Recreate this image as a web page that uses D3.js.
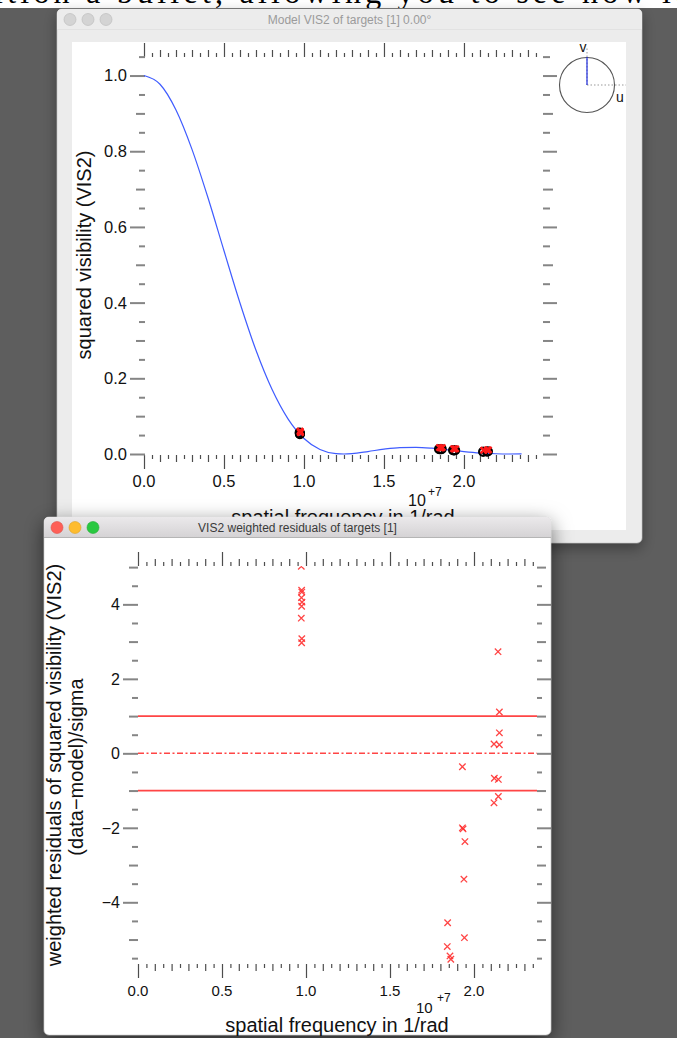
<!DOCTYPE html>
<html>
<head>
<meta charset="utf-8">
<script src="https://cdn.jsdelivr.net/npm/d3@7"></script>
<style>
html, body { margin: 0; padding: 0; background: #5e5e5e; overflow: hidden; }
svg { display: block; }
</style>
</head>
<body>
<script>
// ---- Model VIS2 curve (spatial frequency in units of 1e7 / rad) ----
const modelFreq = [0, 0.1, 0.2, 0.3, 0.4, 0.5, 0.6, 0.7, 0.8, 0.9, 1.0, 1.1, 1.2, 1.25, 1.3,
                   1.4, 1.5, 1.6, 1.7, 1.8, 1.9, 2.0, 2.1, 2.2, 2.28, 2.36];
const modelVis2 = [1.000, 0.977, 0.909, 0.805, 0.677, 0.537, 0.399, 0.274, 0.171, 0.093, 0.041,
                   0.012, 0.001, 0.000, 0.001, 0.0065, 0.0128, 0.0169, 0.0176, 0.0153, 0.0111,
                   0.0065, 0.0028, 0.0006, 0.0000, 0.0001];

// ---- Measured VIS2 ----
const vis2Freq  = [0.972, 0.974, 0.975, 0.973, 0.976, 0.974,
                   1.843, 1.849, 1.857, 1.862,
                   1.931, 1.935, 1.940, 1.946,
                   2.119, 2.121, 2.143, 2.145, 2.151];
const vis2Value = [0.057, 0.056, 0.055, 0.054, 0.053, 0.052,
                   0.013, 0.012, 0.012, 0.013,
                   0.010, 0.009, 0.009, 0.010,
                   0.006, 0.006, 0.007, 0.006, 0.007];

// ---- Weighted residuals (data-model)/sigma ----
const residFreq  = [0.972, 0.974, 0.975, 0.973, 0.976, 0.974, 0.972, 0.975, 0.974,
                    1.843, 1.841, 1.857, 1.862,
                    1.931, 1.931, 1.935, 1.946, 1.940, 1.943,
                    2.143, 2.151, 2.151, 2.119, 2.151, 2.121, 2.145, 2.145, 2.119];
const residValue = [5.02, 4.38, 4.33, 4.18, 4.06, 3.95, 3.63, 3.08, 2.97,
                    -4.55, -5.19, -5.44, -5.53,
                    -0.36, -2.00, -2.03, -2.37, -3.38, -4.95,
                    2.73, 1.11, 0.55, 0.25, 0.23, -0.67, -0.70, -1.16, -1.33];
const residBands = [-1, 1];

// ---- Tick labels ----
const freqTicks   = [0, 0.5, 1.0, 1.5, 2.0];
const freqLabels  = ["0.0", "0.5", "1.0", "1.5", "2.0"];
const vis2Ticks   = [0, 0.2, 0.4, 0.6, 0.8, 1.0];
const vis2Labels  = ["0.0", "0.2", "0.4", "0.6", "0.8", "1.0"];
const residTicks  = [-4, -2, 0, 2, 4];
const residLabels = ["\u22124", "\u22122", "0", "2", "4"];

const W = 677, H = 1038;
const FONT = "'Liberation Sans', Arial, Helvetica, sans-serif";

const svg = d3.select("body").append("svg").attr("width", W).attr("height", H);
const defs = svg.append("defs");

defs.append("filter").attr("id", "shadow1")
  .attr("x", "-10%").attr("y", "-10%").attr("width", "120%").attr("height", "125%")
  .append("feDropShadow").attr("dx", 0).attr("dy", 5).attr("stdDeviation", 7)
  .attr("flood-color", "#000").attr("flood-opacity", 0.35);
defs.append("filter").attr("id", "shadow2")
  .attr("x", "-15%").attr("y", "-10%").attr("width", "130%").attr("height", "125%")
  .append("feDropShadow").attr("dx", 0).attr("dy", 6).attr("stdDeviation", 10)
  .attr("flood-color", "#000").attr("flood-opacity", 0.55);

const tbActive = defs.append("linearGradient").attr("id", "tbActive")
  .attr("x1", 0).attr("y1", 0).attr("x2", 0).attr("y2", 1);
tbActive.append("stop").attr("offset", "0%").attr("stop-color", "#ebe9eb");
tbActive.append("stop").attr("offset", "100%").attr("stop-color", "#d5d3d5");

defs.append("clipPath").attr("id", "bandClip")
  .append("rect").attr("x", 0).attr("y", 0).attr("width", W).attr("height", 8);

// ---- Page strip behind the windows ----
svg.append("rect").attr("x", 0).attr("y", 0).attr("width", W).attr("height", H).attr("fill", "#5e5e5e");
svg.append("rect").attr("x", 0).attr("y", 0).attr("width", W).attr("height", 8).attr("fill", "#ffffff");
svg.append("text").attr("clip-path", "url(#bandClip)")
  .attr("x", -6).attr("y", 3)
  .attr("textLength", 690).attr("lengthAdjust", "spacing")
  .attr("font-family", "'Liberation Serif', 'DejaVu Serif', serif").attr("font-size", 32)
  .attr("fill", "#000").text("ition a bullet, allowing you to see how it");

// ---- Window chrome helper ----
function windowFrame(x, y, w, h, opts) {
  const g = svg.append("g");
  g.append("rect").attr("x", x).attr("y", y).attr("width", w).attr("height", h)
    .attr("rx", 5).attr("fill", opts.body).attr("filter", opts.filter)
    .attr("stroke", "#b8b8b8").attr("stroke-width", 0.5);
  // title bar with rounded top corners
  const r = 5, tb = 20;
  g.append("path")
    .attr("d", `M${x},${y + tb} L${x},${y + r} Q${x},${y} ${x + r},${y} L${x + w - r},${y} Q${x + w},${y} ${x + w},${y + r} L${x + w},${y + tb} Z`)
    .attr("fill", opts.titleFill);
  g.append("line").attr("x1", x).attr("x2", x + w).attr("y1", y + tb + 0.5).attr("y2", y + tb + 0.5)
    .attr("stroke", opts.sep).attr("stroke-width", 1);
  opts.lights.forEach((c, i) => {
    g.append("circle").attr("cx", x + 13 + i * 18).attr("cy", y + 10.5).attr("r", 6)
      .attr("fill", c).attr("stroke", d3.color(c).darker(0.4)).attr("stroke-width", 0.6);
  });
  g.append("text").attr("x", x + w / 2).attr("y", y + 14.5).attr("text-anchor", "middle")
    .attr("font-family", FONT).attr("font-size", 12).attr("fill", opts.titleColor)
    .text(opts.title);
  return g;
}

// axis tick helper drawn with d3 axes, one call per tick level
function tickSet(axisFn, scale, values, size, transform, color, width) {
  const ax = axisFn(scale).tickValues(values).tickSize(size).tickFormat("");
  const g = svg.append("g").attr("transform", transform).call(ax);
  g.select(".domain").remove();
  g.selectAll(".tick line").attr("stroke", color).attr("stroke-width", width);
  return g;
}
function splitLevels(vals, step, majorEvery, midEvery) {
  const out = { major: [], mid: [], minor: [] };
  vals.forEach(v => {
    const k = Math.round(v / step);
    if (k % majorEvery === 0) out.major.push(v);
    else if (k % midEvery === 0) out.mid.push(v);
    else out.minor.push(v);
  });
  return out;
}

// =================== Window 1 : Model VIS2 ===================
windowFrame(57, 9, 585, 534, {
  body: "#ececec", titleFill: "#ececec", sep: "#e2e2e2", filter: "url(#shadow1)",
  lights: ["#d4d4d4", "#d4d4d4", "#d4d4d4"], titleColor: "#9b9b9b",
  title: "Model VIS2 of targets [1] 0.00\u00b0"
});
svg.append("rect").attr("x", 72).attr("y", 42).attr("width", 554).attr("height", 488).attr("fill", "#ffffff");

const x1 = d3.scaleLinear().domain([0, 2.494]).range([144, 543]);
const y1 = d3.scaleLinear().domain([0, 1.049]).range([454, 57]);

const x1Vals = d3.range(0, 50).map(i => +(i * 0.05).toFixed(2));
const x1L = splitLevels(x1Vals, 0.05, 10, 2);
const tickDark = "#4d4d4d", tickGray = "#858585";
[[x1L.major, 14], [x1L.mid, 7], [x1L.minor, 4]].forEach(([v, s]) => {
  tickSet(d3.axisBottom, x1, v, s, `translate(0,${y1(0) + 1})`, tickDark, 1.2);
  tickSet(d3.axisTop, x1, v, s, `translate(0,${y1.range()[1]})`, tickDark, 1.2);
});
const y1Vals = d3.range(0, 22).map(i => +(i * 0.05).toFixed(2));
const y1L = splitLevels(y1Vals, 0.05, 4, 2);
[[y1L.major, 15, 14], [y1L.mid, 9, 10], [y1L.minor, 6, 7]].forEach(([v, sl, sr]) => {
  tickSet(d3.axisLeft, y1, v, sl, `translate(${x1(0) + 1},0)`, tickGray, 2);
  tickSet(d3.axisRight, y1, v, sr, `translate(${x1.range()[1]},0)`, tickGray, 2);
});

svg.append("g").selectAll("text").data(freqTicks).join("text")
  .attr("x", d => x1(d)).attr("y", 487).attr("text-anchor", "middle")
  .attr("font-family", FONT).attr("font-size", 16.5).attr("fill", "#111")
  .text((d, i) => freqLabels[i]);
svg.append("g").selectAll("text").data(vis2Ticks).join("text")
  .attr("x", 127).attr("y", d => y1(d)).attr("dy", "0.36em").attr("text-anchor", "end")
  .attr("font-family", FONT).attr("font-size", 16.5).attr("fill", "#111")
  .text((d, i) => vis2Labels[i]);

svg.append("text").attr("x", 408).attr("y", 506).attr("font-family", FONT).attr("font-size", 16)
  .attr("fill", "#111").text("10");
svg.append("text").attr("x", 428).attr("y", 496).attr("font-family", FONT).attr("font-size", 12)
  .attr("fill", "#111").text("+7");
svg.append("text").attr("x", 343).attr("y", 524).attr("text-anchor", "middle")
  .attr("font-family", FONT).attr("font-size", 20).attr("fill", "#111")
  .text("spatial frequency in 1/rad");
svg.append("text").attr("transform", "translate(91,255) rotate(-90)").attr("text-anchor", "middle")
  .attr("font-family", FONT).attr("font-size", 20).attr("fill", "#111")
  .text("squared visibility (VIS2)");

// model curve
const modelPts = modelFreq.map((f, i) => [f, modelVis2[i]]);
svg.append("path").datum(modelPts)
  .attr("d", d3.line().x(d => x1(d[0])).y(d => y1(d[1])).curve(d3.curveMonotoneX))
  .attr("fill", "none").attr("stroke", "#3f5cff").attr("stroke-width", 1.2);

// measurements: black ring with red cross
const vis2Pts = vis2Freq.map((f, i) => [f, vis2Value[i]]);
svg.append("g").selectAll("circle").data(vis2Pts).join("circle")
  .attr("cx", d => x1(d[0])).attr("cy", d => y1(d[1])).attr("r", 4)
  .attr("fill", "none").attr("stroke", "#000").attr("stroke-width", 1.8);
const crossPath = (s) => `M${-s},${-s}L${s},${s}M${-s},${s}L${s},${-s}`;
svg.append("g").selectAll("path").data(vis2Pts).join("path")
  .attr("transform", d => `translate(${x1(d[0]) + 0.5},${y1(d[1]) - 1.5})`)
  .attr("d", crossPath(3)).attr("stroke", "#ff1a1a").attr("stroke-width", 2.2).attr("fill", "none");

// uv coverage inset
const uvC = [587, 85], uvR = 27.5;
svg.append("line").attr("x1", uvC[0]).attr("x2", 626).attr("y1", uvC[1]).attr("y2", uvC[1])
  .attr("stroke", "#999").attr("stroke-width", 1).attr("stroke-dasharray", "1.5,2");
svg.append("line").attr("x1", uvC[0]).attr("x2", uvC[0]).attr("y1", uvC[1]).attr("y2", 48)
  .attr("stroke", "#999").attr("stroke-width", 1).attr("stroke-dasharray", "1.5,2");
svg.append("circle").attr("cx", uvC[0]).attr("cy", uvC[1]).attr("r", uvR)
  .attr("fill", "none").attr("stroke", "#555").attr("stroke-width", 1.1);
svg.append("line").attr("x1", uvC[0]).attr("x2", uvC[0]).attr("y1", uvC[1]).attr("y2", uvC[1] - uvR - 0.5)
  .attr("stroke", "#1f2de0").attr("stroke-width", 1.2);
svg.append("text").attr("x", 583).attr("y", 52).attr("text-anchor", "middle")
  .attr("font-family", FONT).attr("font-size", 14).attr("fill", "#111").text("v");
svg.append("text").attr("x", 620).attr("y", 102).attr("text-anchor", "middle")
  .attr("font-family", FONT).attr("font-size", 14).attr("fill", "#111").text("u");

// =================== Window 2 : weighted residuals ===================
windowFrame(44, 517, 507, 518, {
  body: "#ffffff", titleFill: "url(#tbActive)", sep: "#b5b5b5", filter: "url(#shadow2)",
  lights: ["#fe5f57", "#febc2e", "#29c840"], titleColor: "#3a3a3a",
  title: "VIS2 weighted residuals of targets [1]"
});

const x2 = d3.scaleLinear().domain([0, 2.375]).range([138, 537]);
const y2 = d3.scaleLinear().domain([-5.63, 5.03]).range([963, 566]);

defs.append("clipPath").attr("id", "resClip").append("rect")
  .attr("x", x2.range()[0]).attr("y", y2.range()[1])
  .attr("width", x2.range()[1] - x2.range()[0]).attr("height", y2.range()[0] - y2.range()[1]);

const x2Vals = d3.range(0, 48).map(i => +(i * 0.05).toFixed(2));
const x2L = splitLevels(x2Vals, 0.05, 10, 2);
[[x2L.major, 14], [x2L.mid, 7], [x2L.minor, 4]].forEach(([v, s]) => {
  tickSet(d3.axisBottom, x2, v, s, `translate(0,${y2.range()[0] + 1})`, tickDark, 1.2);
  tickSet(d3.axisTop, x2, v, s, `translate(0,${y2.range()[1]})`, tickDark, 1.2);
});
const y2Vals = d3.range(-11, 11).map(i => i * 0.5);
const y2L = splitLevels(y2Vals, 0.5, 4, 2);
[[y2L.major, 15, 14], [y2L.mid, 9, 9], [y2L.minor, 6, 5]].forEach(([v, sl, sr]) => {
  tickSet(d3.axisLeft, y2, v, sl, `translate(${x2(0)},0)`, tickGray, 2);
  tickSet(d3.axisRight, y2, v, sr, `translate(${x2.range()[1]},0)`, tickGray, 2);
});

svg.append("g").selectAll("text").data(freqTicks).join("text")
  .attr("x", d => x2(d)).attr("y", 996).attr("text-anchor", "middle")
  .attr("font-family", FONT).attr("font-size", 15).attr("fill", "#111")
  .text((d, i) => freqLabels[i]);
svg.append("g").selectAll("text").data(residTicks).join("text")
  .attr("x", 120).attr("y", d => y2(d)).attr("dy", "0.36em").attr("text-anchor", "end")
  .attr("font-family", FONT).attr("font-size", 16).attr("fill", "#111")
  .text((d, i) => residLabels[i]);

svg.append("text").attr("x", 416).attr("y", 1013).attr("font-family", FONT).attr("font-size", 15)
  .attr("fill", "#111").text("10");
svg.append("text").attr("x", 437).attr("y", 1002).attr("font-family", FONT).attr("font-size", 12)
  .attr("fill", "#111").text("+7");
svg.append("text").attr("x", 337).attr("y", 1032).attr("text-anchor", "middle")
  .attr("font-family", FONT).attr("font-size", 20).attr("fill", "#111")
  .text("spatial frequency in 1/rad");
svg.append("text").attr("transform", "translate(61,765) rotate(-90)").attr("text-anchor", "middle")
  .attr("font-family", FONT).attr("font-size", 20).attr("fill", "#111")
  .text("weighted residuals of squared visibility (VIS2)");
svg.append("text").attr("transform", "translate(83,767) rotate(-90)").attr("text-anchor", "middle")
  .attr("font-family", FONT).attr("font-size", 20).attr("fill", "#111")
  .text("(data\u2212model)/sigma");

// reference lines at +/-1 sigma and zero
svg.append("g").selectAll("line").data(residBands).join("line")
  .attr("x1", x2.range()[0]).attr("x2", x2.range()[1])
  .attr("y1", d => y2(d)).attr("y2", d => y2(d))
  .attr("stroke", "#ff4545").attr("stroke-width", 1.8);
svg.append("line")
  .attr("x1", x2.range()[0]).attr("x2", x2.range()[1]).attr("y1", y2(0)).attr("y2", y2(0))
  .attr("stroke", "#ff4545").attr("stroke-width", 1.5).attr("stroke-dasharray", "6,2.5,2,2.5");

// residual crosses
const residPts = residFreq.map((f, i) => [f, residValue[i]]);
svg.append("g").attr("clip-path", "url(#resClip)").selectAll("path").data(residPts).join("path")
  .attr("transform", d => `translate(${x2(d[0])},${y2(d[1])})`)
  .attr("d", crossPath(3.2)).attr("stroke", "#ff3030").attr("stroke-opacity", 0.9)
  .attr("stroke-width", 1.3).attr("fill", "none");
</script>
</body>
</html>
